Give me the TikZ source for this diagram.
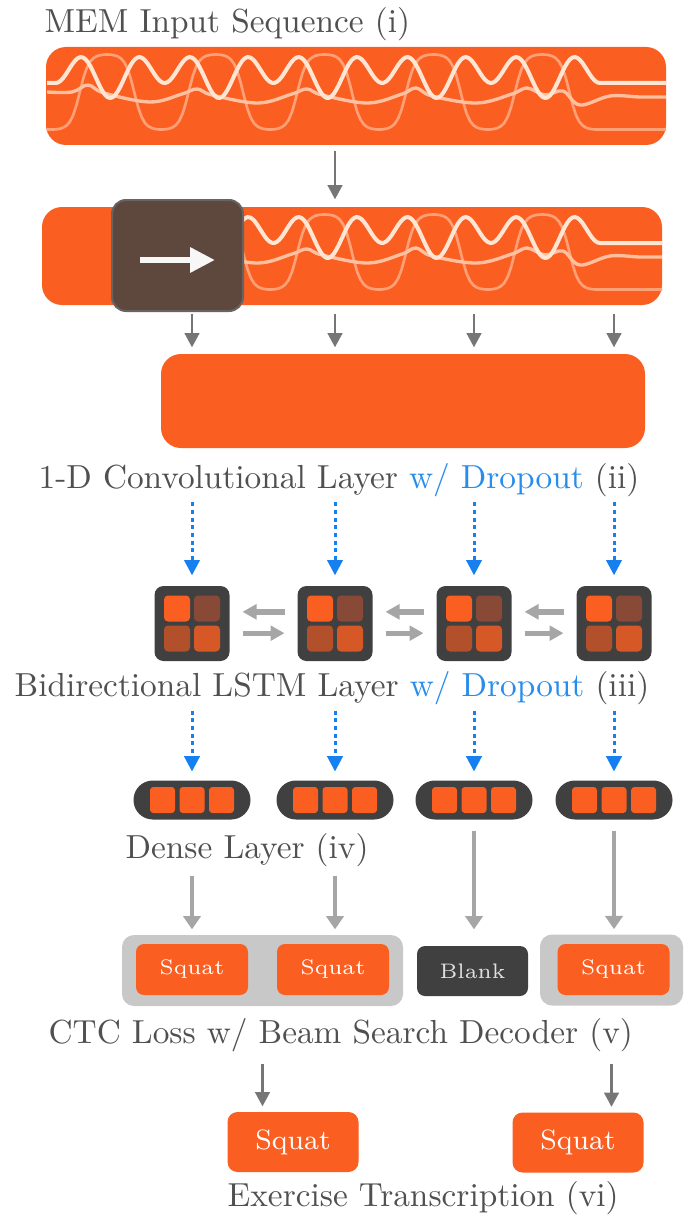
\documentclass[tikz,border=0pt]{standalone}
\usetikzlibrary{arrows.meta}

\definecolor{memorange}{RGB}{251,94,33}
\definecolor{windowbrown}{RGB}{94,72,62}
\definecolor{windowedge}{RGB}{104,100,98}
\definecolor{cellgray}{RGB}{64,64,64}
\definecolor{gatetl}{RGB}{251,94,33}
\definecolor{gatetr}{RGB}{136,74,54}
\definecolor{gatebl}{RGB}{178,80,44}
\definecolor{gatebr}{RGB}{214,88,38}
\definecolor{flowgray}{RGB}{118,118,118}
\definecolor{palegray}{RGB}{166,166,166}
\definecolor{mergegray}{RGB}{200,200,200}
\definecolor{dropblue}{RGB}{22,128,240}
\definecolor{textgray}{RGB}{80,80,80}
\definecolor{textblue}{RGB}{40,140,235}
\definecolor{tracebright}{RGB}{255,230,212}
\definecolor{tracemid}{RGB}{255,192,160}
\definecolor{tracefaint}{RGB}{255,160,118}

\tikzset{
    mem diagram/.style = {x=0.3pt, y=-0.3pt},
    layertext/.style   = {anchor=base west, inner sep=0pt, text=textgray,
                          font=\normalsize},
    seqbox/.style      = {fill=memorange, rounded corners=6pt, inner sep=0pt,
                          minimum width=186pt, minimum height=29.4pt},
    convbox/.style     = {seqbox, minimum width=145.2pt, minimum height=28.2pt},
    slidewin/.style    = {fill=windowbrown, draw=windowedge, line width=0.6pt,
                          rounded corners=4.2pt, inner sep=0pt,
                          minimum width=39.3pt, minimum height=33.3pt},
    lstmcell/.style    = {fill=cellgray, rounded corners=2.7pt, inner sep=0pt,
                          minimum width=22.5pt, minimum height=22.5pt},
    gate/.style        = {rounded corners=1.2pt, inner sep=0pt,
                          minimum width=7.8pt, minimum height=7.8pt},
    densecell/.style   = {fill=cellgray, rounded corners=5.8pt, inner sep=0pt,
                          minimum width=35.1pt, minimum height=11.7pt},
    unit/.style        = {fill=memorange, rounded corners=1pt, inner sep=0pt,
                          minimum width=7.5pt, minimum height=7.8pt},
    mergebox/.style    = {fill=mergegray, rounded corners=3.6pt, inner sep=0pt,
                          minimum height=21.3pt},
    tokenbox/.style    = {fill=memorange, rounded corners=2.4pt, inner sep=0pt,
                          minimum width=33.6pt, minimum height=15.3pt,
                          text=white, font=\fontsize{6.3}{7.5}\selectfont},
    blankbox/.style    = {tokenbox, fill=cellgray, text=white!88!black,
                          minimum width=33.3pt, minimum height=15pt},
    outbox/.style      = {tokenbox, rounded corners=3pt, minimum width=39.3pt,
                          minimum height=18pt,
                          font=\fontsize{8.4}{10}\selectfont},
    flow/.style        = {draw=flowgray, line width=0.8pt,
                          -{Triangle[length=4.3pt, width=4.4pt]}},
    paleflow/.style    = {draw=palegray, line width=1pt,
                          -{Triangle[length=4pt, width=5.2pt]}},
    dropflow/.style    = {draw=dropblue, line width=0.9pt,
                          dash pattern=on 1.2pt off 1.1pt,
                          -{Triangle[length=4.6pt, width=4.6pt]}},
    swapflow/.style    = {draw=palegray, line width=1.6pt,
                          -{Triangle[length=4.2pt, width=4.4pt]},
                          shorten <=3.7pt, shorten >=3.7pt},
    trace bright/.style = {draw=tracebright, line width=1.2pt, line join=round},
    trace mid/.style    = {draw=tracemid, line width=1pt, line join=round},
    trace faint/.style  = {draw=tracefaint, line width=0.8pt, line join=round}
}

% three sensor traces, in the frame of the first sequence box
% (3.3088 = 360/108.8 and 6.6176 = 360/54.4, degrees per unit)
\newcommand\memtraces{%
    \draw[trace faint] (47,129.5) -- plot[domain=52.6:596.6, samples=160]
        (\x, {92-37.5*tanh(1.8*cos(3.3088*(\x-107)))/tanh(1.8)})
        -- (666,129.5);
    \draw[trace mid] plot[smooth, tension=0.6] coordinates {
        (47,92) (72,92) (88,85) (104,93) (150,102) (182,94) (197,89)
        (212,95) (258,103) (292,94) (307,89) (322,95) (368,103) (402,94)
        (416,88) (432,96) (477,103) (512,94) (527,88) (545,95) (563,91)
        (580,105) (610,96) (640,97) (666,97)};
    \draw[trace bright] (47,83) -- plot[domain=55.8:599.8, samples=220]
        (\x, {74-16.5*cos(6.6176*(\x-83))+7.5*cos(3.3088*(\x-110.2))})
        -- (666,83);
}

\begin{document}
\begin{tikzpicture}[mem diagram]
\useasboundingbox (0,0) rectangle (694,1216);

% ================= Input sequence =================
\node[layertext] (inlabel) at (44,33) {MEM Input Sequence (i)};
\node[seqbox] (seqraw) at (356,96) {};
\memtraces

% ================= Sliding window over the sequence =================
\node[seqbox] (seqwin) at (352,256) {};
\begin{scope}
    \clip (200,207) rectangle (662,305);
    \begin{scope}[shift={(0,160)}]
        \memtraces
    \end{scope}
\end{scope}
\node[slidewin] (slidewin) at (177.5,255.5) {};
\draw[line width=2pt, white!94!gray, -{Triangle[length=7.5pt, width=7.2pt]}]
    ([shift={(-37.5,4.5)}]slidewin.center) -- ([shift={(37.5,4.5)}]slidewin.center);

% ================= Convolution =================
\node[convbox] (convout) at (403,401) {};
\node[layertext] (convlabel) at (38,488)
    {1-D Convolutional Layer \textcolor{textblue}{w/ Dropout} (ii)};

% ================= Bidirectional LSTM =================
\foreach \i/\cx in {1/192, 2/335, 3/474, 4/614} {
    \node[lstmcell] (lstm\i) at (\cx,623.5) {};
    \node[gate, fill=gatetl] (lstm\i-tl) at ([shift={(-15,-15)}]lstm\i.center) {};
    \node[gate, fill=gatetr] (lstm\i-tr) at ([shift={(15,-15)}]lstm\i.center) {};
    \node[gate, fill=gatebl] (lstm\i-bl) at ([shift={(-15,15)}]lstm\i.center) {};
    \node[gate, fill=gatebr] (lstm\i-br) at ([shift={(15,15)}]lstm\i.center) {};
}
\foreach \a/\b in {1/2, 2/3, 3/4} {
    \draw[swapflow] ([yshift=3.5pt]lstm\b.west) -- ([yshift=3.5pt]lstm\a.east);
    \draw[swapflow] ([yshift=-2.9pt]lstm\a.east) -- ([yshift=-2.9pt]lstm\b.west);
}
\node[layertext] (lstmlabel) at (14,696)
    {Bidirectional LSTM Layer \textcolor{textblue}{w/ Dropout} (iii)};

% ================= Dense =================
\foreach \i/\cx in {1/192, 2/335, 3/474, 4/614} {
    \node[densecell] (dense\i) at (\cx,800) {};
    \foreach \u/\dx in {1/-29.5, 2/0, 3/29.5}
        \node[unit] (dense\i-\u) at ([shift={(\dx,0)}]dense\i.center) {};
}
\node[layertext] (denselabel) at (125,858) {Dense Layer (iv)};

% ================= CTC decoding =================
\node[mergebox, minimum width=84.3pt] (merge1) at (262.5,970.5) {};
\node[mergebox, minimum width=42.9pt] (merge2) at (611.5,970) {};
\node[tokenbox] (tok1) at (192,969.5) {Squat};
\node[tokenbox] (tok2) at (333,969.5) {Squat};
\node[blankbox] (blank) at (472.5,971) {Blank};
\node[tokenbox] (tok4) at (613.5,969.5) {Squat};
\node[layertext] (ctclabel) at (48,1043) {CTC Loss w/ Beam Search Decoder (v)};

% ================= Transcription =================
\node[outbox] (out1) at (293,1142) {Squat};
\node[outbox] (out2) at (578,1142.5) {Squat};
\node[layertext] (outlabel) at (227,1206) {Exercise Transcription (vi)};

% ================= Connections =================
\draw[flow, shorten <=1.5pt, shorten >=2.1pt]
    (seqraw.south -| lstm2) -- (seqwin.north -| lstm2);
\foreach \i in {1,...,4} {
    \draw[flow, shorten <=2.4pt, shorten >=1.8pt]
        (seqwin.south -| lstm\i) -- (convout.north -| lstm\i);
    \draw[dropflow, shorten <=1.6pt, shorten >=3pt]
        (convlabel.south -| lstm\i) -- (lstm\i.north);
    \draw[dropflow, shorten <=1.7pt, shorten >=2.5pt]
        (lstmlabel.south -| dense\i) -- (dense\i.north);
}
\foreach \i in {1,2}
    \draw[paleflow, shorten <=2.6pt, shorten >=1.5pt]
        (denselabel.south -| dense\i) -- (merge1.north -| dense\i);
\draw[paleflow, shorten <=3.1pt, shorten >=4.8pt]
    (dense3.south) -- (blank.north -| dense3);
\draw[paleflow, shorten <=3.1pt, shorten >=1.4pt]
    (dense4.south) -- (merge2.north -| dense4);
\draw[flow, shorten <=3.5pt, shorten >=1.5pt]
    (ctclabel.south -| merge1) -- (out1.north -| merge1);
\draw[flow, shorten <=3.5pt, shorten >=1.5pt]
    (ctclabel.south -| merge2) -- (out2.north -| merge2);

\end{tikzpicture}
\end{document}
